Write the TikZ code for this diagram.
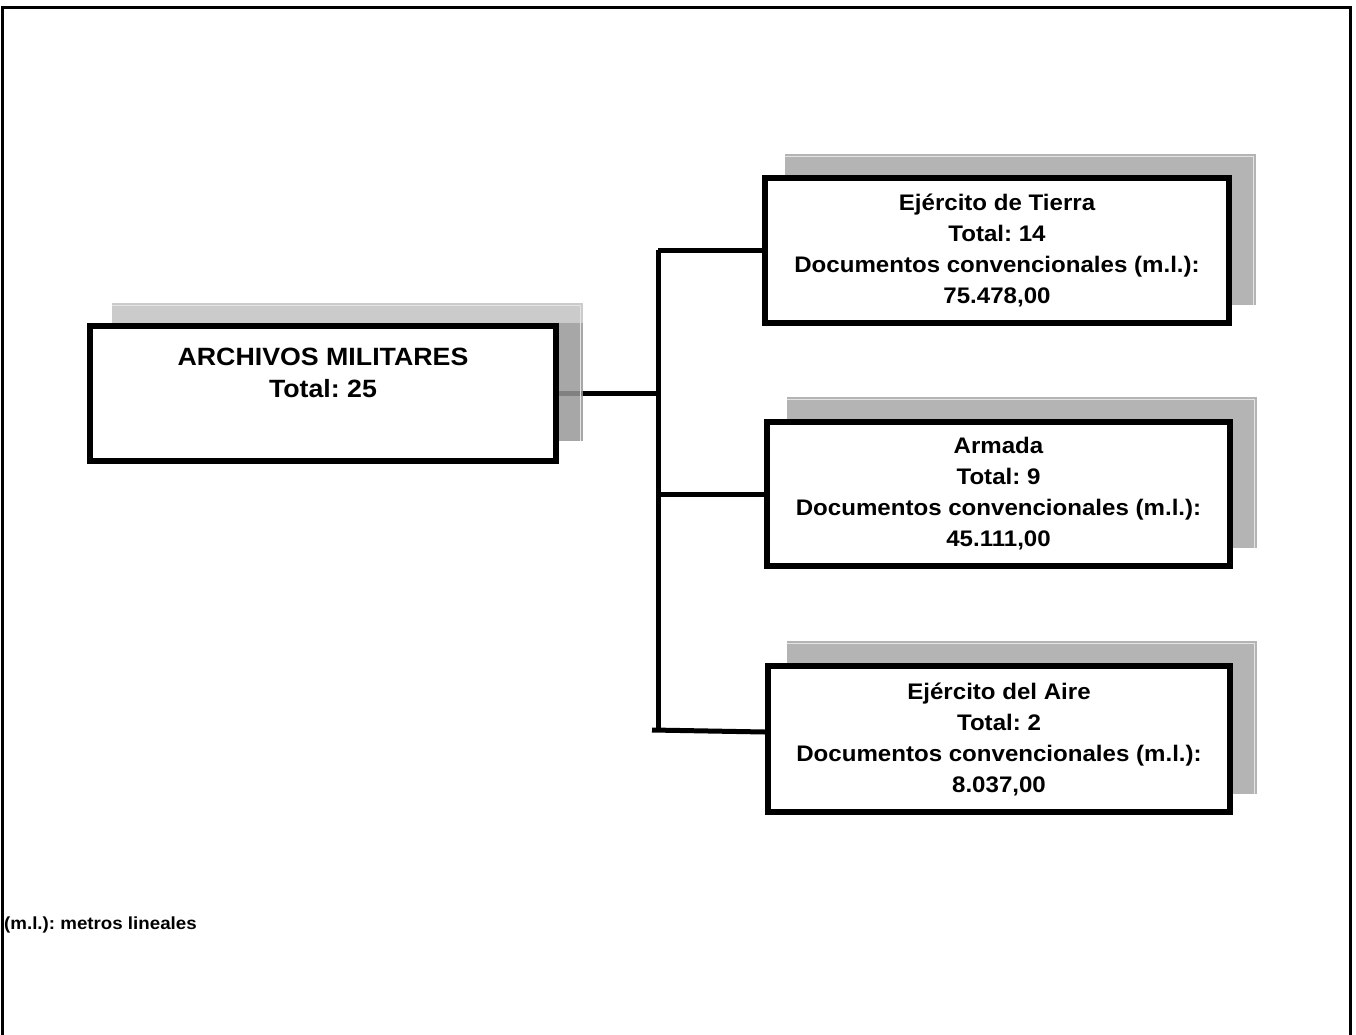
\documentclass[tikz,border=0pt]{standalone}
\usepackage{fontspec}
\setmainfont{Liberation Sans}[FakeStretch=1.07]
\frenchspacing
\definecolor{shadowA}{HTML}{B4B4B4}
\definecolor{shadowEdge}{HTML}{E4E4E4}
\definecolor{shadowTop}{HTML}{C2C2C2}
\definecolor{shadowDark}{HTML}{989898}
\tikzset{
  orgbox/.style={draw=black, line width=6pt, fill=white, inner sep=0pt, align=center,
     font=\fontsize{22.5}{31}\selectfont\bfseries\frenchspacing},
  link/.style={draw=black, line width=5pt},
  shadowbox/.style={fill=shadowA},
  shadowline/.style={draw=shadowEdge, line width=1pt},
}
\begin{document}
\begin{tikzpicture}[x=1pt,y=-1pt]
\useasboundingbox (0,0) rectangle (1356,1035);
% outer frame
\draw[line width=3pt] (2.5,1035) -- (2.5,7.5) -- (1350.5,7.5) -- (1350.5,1035);

% main connector (under the shadow)
\coordinate (mainR) at (556,393.5);
\coordinate (joint) at (658,393.5);
\draw[link] (mainR) -- (joint);

% main shadow
\fill[shadowTop, fill opacity=0.85] (112,303) rectangle (583,323);
\fill[shadowDark, fill opacity=0.85] (112,323) rectangle (583,441);
\draw[shadowline] (112,305.5) -- (580.5,305.5) -- (580.5,441);

% other shadows
\fill[shadowbox] (785,154) rectangle (1256,305);
\draw[shadowline] (785,156.5) -- (1253.5,156.5) -- (1253.5,305);
\fill[shadowbox] (787,397) rectangle (1257,548);
\draw[shadowline] (787,399.5) -- (1254.5,399.5) -- (1254.5,548);
\fill[shadowbox] (787,641) rectangle (1257,794);
\draw[shadowline] (787,643.5) -- (1254.5,643.5) -- (1254.5,794);

% boxes
\node[orgbox, minimum width=466pt, minimum height=135pt,
      label={[name=maintext, align=center, yshift=20.5pt, font=\fontsize{25}{32}\selectfont\bfseries\frenchspacing]center:ARCHIVOS MILITARES\\Total: 25}]
      (main) at (323,393.5) {};
\node[orgbox, minimum width=464pt, minimum height=145pt] (tierra) at (997,250.5)
  {Ejército de Tierra\\Total: 14\\Documentos convencionales (m.l.):\\75.478,00};
\node[orgbox, minimum width=463pt, minimum height=144pt] (armada) at (998.5,494)
  {Armada\\Total: 9\\Documentos convencionales (m.l.):\\45.111,00};
\node[orgbox, minimum width=462pt, minimum height=146pt] (aire) at (999,739)
  {Ejército del Aire\\Total: 2\\Documentos convencionales (m.l.):\\8.037,00};

% trunk and branches
\coordinate (trunkTop) at (658,250);
\coordinate (trunkBot) at (658,731);
\coordinate (aireStub) at (652,730);
\draw[link] (trunkTop) -- (trunkBot);
\draw[link] (tierra.west) -- (tierra.west -| trunkTop);
\draw[link] (armada.west) -- (armada.west -| trunkTop);
\draw[link] (aireStub) -- ([yshift=7pt]aire.west);

% footnote
\node[anchor=west, inner sep=0pt, font=\fontsize{17.5}{20}\selectfont\bfseries\frenchspacing] (note) at (4,925) {(m.l.): metros lineales};
\end{tikzpicture}
\end{document}
